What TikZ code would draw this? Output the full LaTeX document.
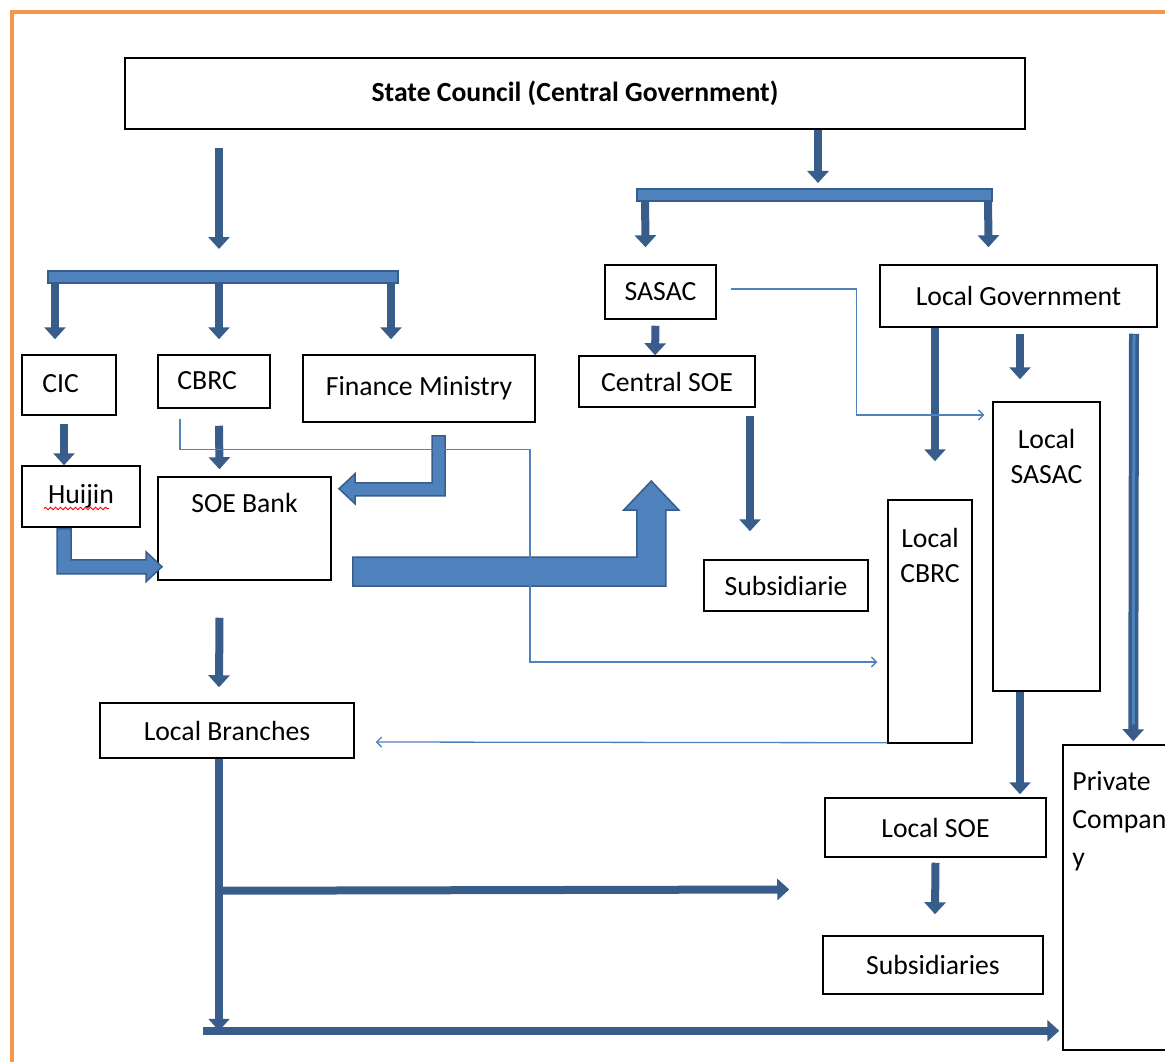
\documentclass[tikz,border=0pt]{standalone}
\usepackage{fontspec}
\setmainfont{Carlito}
\usetikzlibrary{arrows.meta,calc,decorations.pathmorphing}
\definecolor{arrowdark}{HTML}{385D8A}
\definecolor{blockfill}{HTML}{4F81BD}
\definecolor{linkblue}{HTML}{4F81BD}
\definecolor{frameorange}{HTML}{F79646}
\begin{document}
\begin{tikzpicture}[x=1pt, y=-1pt, font=\fontsize{27.7}{35}\selectfont]
   \tikzstyle{box}=[draw=black, line width=1.5pt, inner sep=0pt]
   \tikzstyle{boxtext}=[inner sep=0pt, align=center]
   \tikzstyle{fatarrow}=[draw=arrowdark, line width=8pt, -{Triangle[width=21pt,length=12pt]}]
   \tikzstyle{thinlink}=[draw=linkblue, line width=1.3pt, -{Straight Barb[length=5pt,width=10pt]}]
   \tikzstyle{blockarrow}=[draw=arrowdark, fill=blockfill, line width=1.5pt, line join=miter]
   \tikzstyle{splitbar}=[draw=arrowdark, fill=blockfill, line width=1.5pt]

\useasboundingbox (0,0) rectangle (1165,1062);
\clip (0,0) rectangle (1165,1062);
\draw[frameorange, line width=3.5pt] (12,1062) -- (12,12) -- (1165,12);

% boxes
\node[box, minimum width=900, minimum height=71, font=\fontsize{27.7}{35}\selectfont\bfseries] (sc) at (575,93.5) {State Council (Central Government)};
\node[box, minimum width=94, minimum height=60,
      label={[boxtext, anchor=west, xshift=21pt, yshift=1pt]west:CIC}] (cic) at (69,385) {};
\node[box, minimum width=112, minimum height=53,
      label={[boxtext, anchor=west, xshift=20pt, yshift=1pt]west:CBRC}] (cbrc) at (214,381.5) {};
\node[box, minimum width=232, minimum height=67] (fin) at (419,388.5) {Finance Ministry};
\node[box, minimum width=118, minimum height=61] (huijin) at (81,496.5) {Huijin};
\node[box, minimum width=173, minimum height=103,
      label={[boxtext, anchor=north, yshift=-17pt]north:SOE Bank}] (soebank) at (244.5,528.5) {};
\node[box, minimum width=254, minimum height=55] (lb) at (227,730.5) {Local Branches};
\node[box, minimum width=111, minimum height=54] (sasac) at (660.5,292) {SASAC};
\node[box, minimum width=176, minimum height=51] (csoe) at (667,381.5) {Central SOE};
\node[box, minimum width=164, minimum height=51] (subs1) at (786,585.5) {Subsidiarie};
\node[box, minimum width=277, minimum height=62] (lg) at (1018.5,296) {Local Government};
\node[box, minimum width=84, minimum height=243,
      label={[boxtext, anchor=north, yshift=-29pt]north:Local\\CBRC}] (lcbrc) at (930,621.5) {};
\node[box, minimum width=107, minimum height=289,
      label={[boxtext, anchor=north, yshift=-28pt]north:Local\\SASAC}] (lsasac) at (1046.5,546.5) {};
\node[box, minimum width=221, minimum height=59] (lsoe) at (935.5,827.5) {Local SOE};
\node[box, minimum width=220, minimum height=58] (subs2) at (933,965) {Subsidiaries};
\node[box, minimum width=110, minimum height=305,
      label={[boxtext, align=left, anchor=north west, xshift=10pt, yshift=-27pt]north west:Private\\[3pt]Compan\\[3pt]y}] (pc) at (1118,897.5) {};

% spell-check underline
\draw[red, line width=0.9pt, decorate, decoration={snake, amplitude=1.3pt, segment length=5pt}]
    ($(huijin.center)+(-37,12)$) -- ++(65,0);

% split bars
\coordinate (lbarW) at (48,277);
\coordinate (lbarE) at (398,277);
\coordinate (ljoin) at (219,277);
\coordinate (rbarW) at (637,195);
\coordinate (rbarE) at (992,195);
\coordinate (rjoin) at (818,195);

\draw[fatarrow, shorten >=28pt] ($(sc.south)+(-356,18)$) -- (ljoin);
\draw[fatarrow, shorten >=12pt] ($(sc.south)+(243,0)$) -- (rjoin);
\draw[fatarrow] ($(lbarW)+(7,0)$) -- ($(cic.north)+(-14,-15)$);
\draw[fatarrow] (ljoin) -- ($(cbrc.north)+(5,-15)$);
\draw[fatarrow] ($(lbarE)+(-7,0)$) -- ($(fin.north)+(-28,-15)$);
\draw[fatarrow] ($(rbarW)+(8,0)$) -- ($(sasac.north)+(-15,-17)$);
\draw[fatarrow] ($(rbarE)+(-4,0)$) -- ($(lg.north)+(-30,-17)$);
\draw[splitbar] ($(lbarW)+(0,-6)$) rectangle ($(lbarE)+(0,6)$);
\draw[splitbar] ($(rbarW)+(0,-6)$) rectangle ($(rbarE)+(0,6)$);

% central side
\draw[fatarrow] ($(cic.south)+(-5,8)$) -- ($(huijin.north)+(-17,0)$);
\draw[fatarrow] ($(cbrc.south)+(5,17)$) -- ($(soebank.north)+(-25,-7)$);
\draw[fatarrow] ($(soebank.south)+(-25,37)$) -- ($(lb.north)+(-8,-15)$);
\draw[fatarrow] ($(sasac.south)+(-5,6)$) -- ($(csoe.north)+(-12,0)$);
\draw[fatarrow] ($(csoe.south)+(83,8)$) -- ($(subs1.north)+(-36,-28)$);

% block arrows
\draw[blockarrow] ($(fin.south)+(13,13)$) -- ++(13,0) -- ++(0,60) -- ++(-90,0) -- ++(0,8)
    -- ++(-16,-15) -- ++(16,-15) -- ++(0,9) -- ++(77,0) -- cycle;
\draw[blockarrow] ($(huijin.south)+(-24,1)$) -- ++(14,0) -- ++(0,31) -- ++(75,0) -- ++(0,-8)
    -- ++(16,15) -- ++(-16,15) -- ++(0,-8) -- ++(-89,0) -- cycle;
\draw[blockarrow] ($(soebank.east)+(21,28.5)$) -- ++(284,0) -- ++(0,-47) -- ++(-13,0)
    -- ++(27.5,-29) -- ++(27.5,29) -- ++(-13,0) -- ++(0,76) -- ++(-313,0) -- cycle;

% local side
\draw[fatarrow] ($(lg.south)+(-83.5,0)$) -- ($(lcbrc.north)+(5,-38)$);
\draw[fatarrow] ($(lg.south)+(1.5,6)$) -- ($(lsasac.north)+(-26.5,-22)$);
\draw[fatarrow, line width=10pt] ($(lg.south)+(115.5,6)$) -- ($(pc.north west)+(71,-3)$);
\draw[blockfill, line width=3pt] ($(lg.south)+(115.5,7)$) -- ($(pc.north west)+(71,-20)$);
\draw[fatarrow] ($(lsasac.south)+(-26.5,0)$) -- ($(lsoe.north)+(84.5,-3)$);
\draw[fatarrow] ($(lsoe.south)+(0,5)$) -- ($(subs2.north)+(2,-21)$);

% branches down
\draw[fatarrow] ($(lb.south)+(-8,0)$) -- ++(0,272);
\draw[fatarrow] ($(lb.south)+(-8,132)$) -- ($(lsoe.west)+(-35,62)$);
\draw[fatarrow] ($(lb.south)+(-24,272)$) -- ($(pc.south west)+(-3,-20)$);

% thin links
\draw[thinlink] ($(cbrc.south)+(-34,10)$) -- ++(0,31) -- ++(350,0) |- ($(lcbrc.west)+(-10,40.5)$);
\draw[thinlink] ($(sasac.east)+(14,-3)$) -- ++(126,0) |- ($(lsasac.west)+(-8,-131.5)$);
\draw[thinlink] ($(lcbrc.south west)+(0,-1)$) -- ($(lb.east)+(21,11.5)$);

\end{tikzpicture}
\end{document}
